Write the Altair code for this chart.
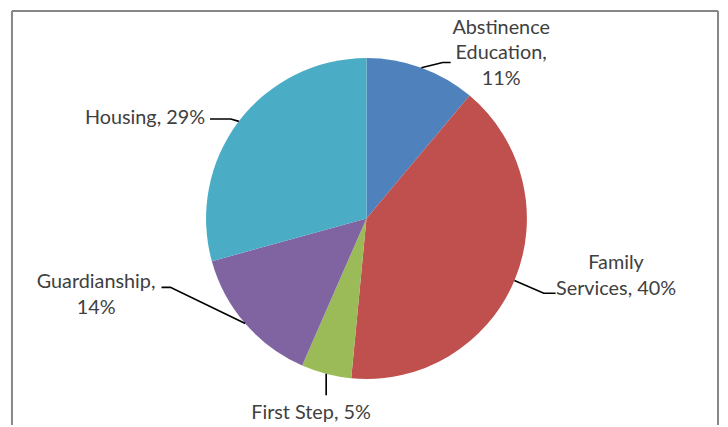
import altair as alt
import pandas as pd
import numpy as np

# ---- data ----
categories = ["Abstinence Education", "Family Services", "First Step", "Guardianship", "Housing"]
percents = [11, 40, 5, 14, 29]
label_texts = ["Abstinence\nEducation,\n11%", "Family\nServices, 40%", "First Step, 5%",
               "Guardianship,\n14%", "Housing, 29%"]
colors = ["#4F81BD", "#C0504D", "#9BBB59", "#8064A2", "#4BACC6"]

# ---- layout (pixels, view coordinates) ----
W, H = 719, 419
CX, CY, R = 362, 210.5, 162
label_x = [498, 614, 306, 89, 199]
label_y = [23.7, 262, 413, 281, 115]
label_align = ["center", "center", "center", "center", "right"]
elbow_x = [439, 541, None, 164, 225]
elbow_y = [53, 286, 389, 280, 110]
end_x = [447, 553, None, 155, 204]
end_y = [53, 286, 389, 280, 110]
FONT = "Lato"
FS = 20
LH = 26

pie = pd.DataFrame({"category": categories, "value": percents, "idx": range(len(categories))})
total = pie["value"].sum()
mid = (pie["value"].cumsum() - pie["value"] / 2) / total * 2 * np.pi
sx = CX + R * np.sin(mid)
sy = CY - R * np.cos(mid)

rows = []
for i, c in enumerate(categories):
    ex = elbow_x[i] if elbow_x[i] is not None else sx[i]
    nx = end_x[i] if end_x[i] is not None else sx[i]
    rows += [
        {"category": c, "seq": 0, "px": sx[i], "py": sy[i]},
        {"category": c, "seq": 1, "px": ex, "py": elbow_y[i]},
        {"category": c, "seq": 2, "px": nx, "py": end_y[i]},
    ]
leaders = pd.DataFrame(rows)

labels = pd.DataFrame({"category": categories, "label": label_texts,
                       "px": label_x, "py": label_y, "align": label_align})

xs = alt.X("px:Q", scale=None, axis=None)
ys = alt.Y("py:Q", scale=None, axis=None)

arc = alt.Chart(pie).mark_arc(radius=R, x=CX, y=CY).encode(
    theta=alt.Theta("value:Q", stack=True),
    color=alt.Color("category:N", scale=alt.Scale(domain=categories, range=colors), legend=None),
    order=alt.Order("idx:Q"),
)

lines = alt.Chart(leaders).mark_line(color="#000000", strokeWidth=1.7).encode(
    x=xs, y=ys, detail="category:N", order="seq:Q"
)

text_c = alt.Chart(labels).transform_filter(alt.datum.align == "center").mark_text(
    align="center", baseline="alphabetic", font=FONT, fontSize=FS, color="#404040",
    lineBreak="\n", lineHeight=LH
).encode(x=xs, y=ys, text="label:N")

text_r = alt.Chart(labels).transform_filter(alt.datum.align == "right").mark_text(
    align="right", baseline="alphabetic", font=FONT, fontSize=FS, color="#404040",
    lineBreak="\n", lineHeight=LH
).encode(x=xs, y=ys, text="label:N")

# frame (top, left, right edges)
frame = pd.DataFrame({"x1": [4, 4, 717], "x2": [717, 4, 717], "y1": [1, 1, 1], "y2": [1, 419, 419]})
border = alt.Chart(frame).mark_rule(color="#868686", strokeWidth=2).encode(
    x=alt.X("x1:Q", scale=None, axis=None), x2="x2:Q",
    y=alt.Y("y1:Q", scale=None, axis=None), y2="y2:Q",
)

chart = alt.layer(border, arc, lines, text_c, text_r).properties(
    width=W, height=H, padding=0, autosize=alt.AutoSizeParams(type="none")
).configure_view(stroke=None)

chart.save("out.html", embed_options={"renderer": "svg", "actions": False})
